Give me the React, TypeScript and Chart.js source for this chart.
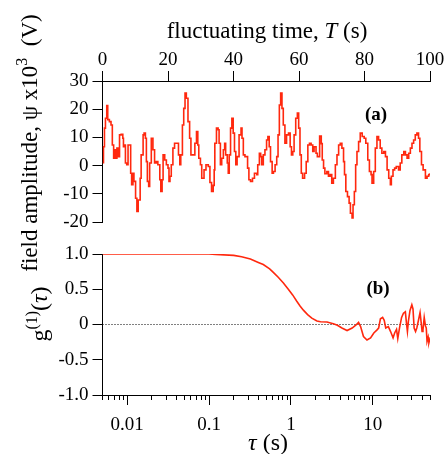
import React, { useEffect, useRef } from "react";
import { Chart, registerables } from "chart.js";
Chart.register(...registerables);

// ---------- data: panel (a) ----------
const timeSeconds = [
  0, 0.3, 0.6, 0.9, 1.3, 1.6, 2.1, 2.6, 3.0, 3.4, 3.7, 4.0, 4.4, 4.8, 5.2, 5.7, 6.2, 6.4, 6.7, 7.0,
  7.4, 7.8, 8.3, 8.6, 8.9, 9.3, 9.6, 10.1, 10.5, 10.9, 11.3, 11.5, 11.8, 12.4, 12.7, 13.1, 13.4, 13.7, 14.1, 14.4,
  14.9, 15.4, 15.9, 16.4, 16.9, 17.5, 17.8, 18.2, 18.5, 19.0, 19.5, 20.0, 20.3, 20.6, 21.0, 21.5, 22.0, 22.8, 23.2, 23.6,
  23.9, 24.4, 24.8, 25.2, 25.6, 26.1, 26.6, 27.0, 27.6, 28.2, 28.7, 29.1, 29.4, 29.9, 30.3, 31.0, 31.6, 32.3, 32.8, 33.3,
  33.8, 34.1, 34.3, 34.8, 35.3, 35.6, 36.0, 36.4, 36.9, 37.3, 37.6, 38.1, 38.4, 38.7, 39.1, 39.5, 39.9, 40.3, 40.7, 41.1,
  41.7, 42.3, 42.6, 43.0, 43.5, 44.0, 44.3, 44.7, 45.2, 45.8, 46.4, 47.1, 47.4, 47.9, 48.3, 48.6, 49.1, 49.6, 50.1, 50.5,
  50.9, 51.3, 51.8, 52.2, 52.7, 53.2, 53.6, 54.0, 54.4, 54.8, 55.2, 55.7, 56.2, 56.8, 57.3, 57.7, 58.1, 58.5, 59.0, 59.5,
  59.9, 60.3, 60.7, 61.1, 61.7, 62.2, 62.7, 63.2, 63.7, 64.2, 64.6, 65.2, 65.6, 66.3, 66.8, 67.1, 67.5, 67.9, 68.5, 69.0,
  69.5, 70.0, 70.5, 71.1, 71.6, 72.1, 72.6, 73.1, 73.6, 73.9, 74.3, 74.8, 75.3, 75.7, 76.2, 76.5, 76.9, 77.3, 77.7, 78.2,
  78.7, 79.3, 79.9, 80.4, 81.0, 81.5, 82.0, 82.3, 82.8, 83.3, 83.8, 84.3, 84.8, 85.3, 85.9, 86.4, 86.9, 87.4, 87.9, 88.2,
  88.7, 89.2, 89.7, 90.4, 90.9, 91.4, 92.0, 92.5, 93.0, 93.5, 94.0, 94.5, 95.0, 95.5, 96.0, 96.5, 96.9, 97.4, 97.9, 98.6,
  99.1, 99.6, 100,
];
const amplitude = [
  1.0, 6.7, 13.3, 16.8, 21.3, 16.3, 15.6, 14.4, 7.3, 2.6, 5.6, 2.6, 6.2, 3.2, 10.9, 11.1, 9.7, 6.7, 7.3, 0.9,
  0.3, 7.3, 7.3, -2.7, -6.8, -2.7, -5.6, -11.6, -16.3, -12.2, -12.2, -4.5, 3.8, 10.9, 11.5, 9.7, 1.4, -5.6, -7.4, 0.9,
  9.7, 5.6, 0.9, 1.4, 0.3, -5.0, -9.2, -5.0, 3.8, 2.0, 0.3, -0.9, -5.6, -3.8, 0.3, 6.2, 7.9, 7.9, 3.8, 0.3,
  3.8, 14.4, 20.3, 25.7, 23.9, 15.6, 9.7, 3.8, 3.8, 7.9, 12.1, 7.3, 2.6, 0.3, -4.5, -1.5, 0.3, -0.3, -6.0, -9.2,
  -7.0, -1.5, 7.9, 13.3, 12.7, 7.9, 0.3, 2.6, 5.6, 7.9, 3.8, 0.9, -2.7, 3.8, 13.3, 16.8, 11.5, 5.0, 0.3, 3.2,
  10.9, 13.3, 9.7, 3.8, 3.2, 3.2, -0.9, -5.0, -5.6, -4.5, -2.7, -3.2, 0.3, 4.4, 3.2, 0.3, 3.8, 5.6, 9.1, 10.3,
  6.7, 1.4, -2.7, -2.1, 0.3, 3.2, 10.9, 21.5, 25.7, 20.3, 14.4, 7.9, 10.9, 11.5, 6.7, 3.8, 5.0, 10.9, 16.8, 18.6,
  13.3, 3.8, -2.7, -4.5, -2.7, 1.4, 7.3, 7.9, 7.3, 5.0, 6.7, 4.4, 3.2, 10.5, 7.8, 2.0, -0.9, -2.9, -2.1, -3.8,
  -3.2, -6.2, -4.5, 0.3, 3.8, 7.3, 7.9, 6.2, 1.4, -3.2, -9.2, -11.0, -13.3, -16.9, -18.6, -13.9, -9.2, 0.3, 5.0, 8.5,
  11.5, 10.3, 9.7, 7.9, 2.0, -2.1, -3.2, -6.2, -2.1, 6.2, 10.3, 9.1, 6.2, 4.4, 5.0, 3.2, -1.5, -4.5, -6.8, -3.8,
  -1.5, -0.9, -0.3, -1.5, 0.9, 3.8, 5.0, 3.8, 2.6, 4.4, 6.2, 7.9, 9.1, 10.9, 11.5, 9.7, 5.0, 0.3, -1.5, -4.5,
  -3.8, -3.2, -2.7,
];
const timeTicks = [0, 20, 40, 60, 80, 100];
const amplitudeTicks = [-20, -10, 0, 10, 20, 30];

// ---------- data: panel (b) ----------
const lagSeconds = [
  0.005, 0.1, 0.12, 0.2, 0.25, 0.32, 0.4, 0.46, 0.55, 0.61, 0.7, 0.81, 0.93, 1.05, 1.18, 1.3, 1.43, 1.6, 1.8, 2.08,
  2.3, 2.76, 3.3, 3.7, 4.2, 4.85, 5.6, 6.2, 6.7, 7.1, 7.7, 8.5, 9.4, 10.3, 11.2, 11.8, 12.4, 13.2, 13.8, 14.4,
  15.5, 16.5, 17.7, 18.5, 19.5, 20.2, 21.2, 22.5, 23.7, 25, 25.8, 26.5, 27.2, 28.5, 30, 31, 32, 33.3, 34.5, 36,
  37.8, 39, 40, 41, 42.5, 44, 45, 46, 47.5, 48.5, 50,
];
const correlation = [
  1.0, 1.0, 0.995, 0.98, 0.96, 0.93, 0.88, 0.85, 0.79, 0.74, 0.67, 0.59, 0.5, 0.42, 0.33, 0.26, 0.2, 0.14, 0.09, 0.05,
  0.04, 0.035, 0.01, -0.01, -0.05, -0.085, -0.05, -0.01, 0.03, -0.03, -0.17, -0.22, -0.19, -0.12, -0.08, -0.05, 0.08, 0.1, 0.06, -0.05,
  -0.03, -0.1, -0.19, -0.12, -0.07, -0.2, -0.05, 0.1, 0.16, 0.18, 0.02, -0.1, 0.04, 0.2, 0.28, 0.22, -0.05, -0.1, -0.05, 0.05,
  0.17, 0.03, -0.1, -0.08, 0.1, -0.02, -0.05, -0.24, -0.18, -0.26, -0.2,
];
const correlationTicks = [-1, -0.5, 0, 0.5, 1];
const majorLagTicks = [0.01, 0.1, 1, 10];
const minorLagTicks = [
  0.005, 0.006, 0.007, 0.008, 0.009, 0.02, 0.03, 0.04, 0.05, 0.06, 0.07, 0.08, 0.09,
  0.2, 0.3, 0.4, 0.5, 0.6, 0.7, 0.8, 0.9, 2, 3, 4, 5, 6, 7, 8, 9, 20, 30, 40, 50,
];

const SERIF = '"Liberation Serif", "Times New Roman", serif';
const RED = "rgb(255,40,14)";
const W = 446;
const H = 454;

type Seg = { t: string; italic?: boolean; sup?: boolean; bold?: boolean };

function drawRich(ctx: CanvasRenderingContext2D, segs: Seg[], cx: number, cy: number, size: number, rotate: boolean) {
  ctx.save();
  ctx.translate(cx, cy);
  if (rotate) ctx.rotate(-Math.PI / 2);
  const fontFor = (s: Seg) =>
    `${s.italic ? "italic " : ""}${s.bold ? "bold " : ""}${s.sup ? Math.round(size * 0.68) : size}px ${SERIF}`;
  let total = 0;
  const widths = segs.map((s) => {
    ctx.font = fontFor(s);
    const w = ctx.measureText(s.t).width;
    total += w;
    return w;
  });
  let x = -total / 2;
  ctx.fillStyle = "#000";
  ctx.textBaseline = "alphabetic";
  ctx.textAlign = "left";
  segs.forEach((s, i) => {
    ctx.font = fontFor(s);
    ctx.fillText(s.t, x, s.sup ? size * 0.33 - size * 0.4 : size * 0.33);
    x += widths[i];
  });
  ctx.restore();
}

const tickFont = { family: SERIF, size: 19 };

export default function App() {
  const topRef = useRef<HTMLCanvasElement | null>(null);
  const botRef = useRef<HTMLCanvasElement | null>(null);

  useEffect(() => {
    Chart.defaults.font.family = SERIF;
    Chart.defaults.color = "#000";

    const topText = {
      id: "topText",
      afterDraw(chart: any) {
        const ctx = chart.ctx as CanvasRenderingContext2D;
        drawRich(ctx, [{ t: "fluctuating time, " }, { t: "T", italic: true }, { t: " (s)" }], 267, 30, 23, false);
        drawRich(
          ctx,
          [{ t: "field amplitude, ψ x10" }, { t: "3", sup: true }, { t: "  (V)" }],
          29,
          143,
          23,
          true
        );
        drawRich(ctx, [{ t: "(a)", bold: true }], 376, 114, 19, false);
      },
    };

    const botText = {
      id: "botText",
      afterDraw(chart: any) {
        const ctx = chart.ctx as CanvasRenderingContext2D;
        drawRich(ctx, [{ t: "τ", italic: true }, { t: " (s)" }], 268, 442, 24, false);
        drawRich(
          ctx,
          [{ t: "g" }, { t: "(1)", sup: true }, { t: "(" }, { t: "τ", italic: true }, { t: ")" }],
          39,
          314,
          24,
          true
        );
        drawRich(ctx, [{ t: "(b)", bold: true }], 378, 288, 19, false);
      },
    };

    const topChart = new Chart(topRef.current as HTMLCanvasElement, {
      type: "line",
      data: {
        datasets: [
          {
            data: timeSeconds.map((x, i) => ({ x, y: amplitude[i] })),
            borderColor: RED,
            borderWidth: 1.6,
            pointRadius: 0,
            stepped: true,
            fill: false,
          },
        ],
      },
      options: {
        animation: false,
        responsive: false,
        layout: { padding: { left: 0, top: 0, right: W - 430, bottom: H - 222 } },
        plugins: { legend: { display: false }, tooltip: { enabled: false } },
        scales: {
          x: {
            type: "linear",
            position: "top",
            min: 0,
            max: 100,
            afterBuildTicks: (s: any) => {
              s.ticks = timeTicks.map((v) => ({ value: v }));
            },
            afterFit: (s: any) => {
              s.height = 81;
            },
            ticks: { font: tickFont, color: "#000", padding: 0, maxRotation: 0, autoSkip: false },
            grid: { drawOnChartArea: false, drawTicks: true, tickLength: 10, color: "#000", lineWidth: 1 },
            border: { display: true, color: "#000", width: 1 },
          },
          y: {
            type: "linear",
            position: "left",
            min: -20,
            max: 30,
            afterBuildTicks: (s: any) => {
              s.ticks = amplitudeTicks.map((v) => ({ value: v }));
            },
            afterFit: (s: any) => {
              s.width = 102.5;
            },
            ticks: { font: tickFont, color: "#000", padding: 4, callback: (v: any) => String(v) },
            grid: { drawOnChartArea: false, drawTicks: true, tickLength: 10, color: "#000", lineWidth: 1 },
            border: { display: true, color: "#000", width: 1 },
          },
        },
      },
      plugins: [topText],
    } as any);

    const botChart = new Chart(botRef.current as HTMLCanvasElement, {
      type: "line",
      data: {
        datasets: [
          {
            data: lagSeconds.map((x, i) => ({ x, y: correlation[i] })),
            borderColor: RED,
            borderWidth: 1.6,
            pointRadius: 0,
            tension: 0,
            fill: false,
            xAxisID: "x",
          },
          {
            data: [
              { x: minorLagTicks[0], y: 0 },
              { x: minorLagTicks[minorLagTicks.length - 1], y: 0 },
            ],
            borderColor: "#000",
            borderWidth: 1,
            borderDash: [1, 2],
            pointRadius: 0,
            fill: false,
            xAxisID: "x",
          },
        ],
      },
      options: {
        animation: false,
        responsive: false,
        layout: { padding: { left: 0, top: 254, right: W - 430, bottom: 0 } },
        plugins: { legend: { display: false }, tooltip: { enabled: false } },
        scales: {
          xMinor: {
            type: "logarithmic",
            position: "bottom",
            weight: 0,
            min: 0.005,
            max: 50,
            afterBuildTicks: (s: any) => {
              s.ticks = minorLagTicks.map((v) => ({ value: v }));
            },
            afterFit: (s: any) => {
              s.height = 0;
            },
            ticks: { display: false },
            grid: { drawOnChartArea: false, drawTicks: true, tickLength: 5, color: "#000", lineWidth: 1 },
            border: { display: false },
          },
          x: {
            type: "logarithmic",
            position: "bottom",
            weight: 1,
            min: 0.005,
            max: 50,
            afterBuildTicks: (s: any) => {
              s.ticks = majorLagTicks.map((v) => ({ value: v }));
            },
            afterFit: (s: any) => {
              s.height = H - 395;
            },
            ticks: {
              font: tickFont,
              color: "#000",
              padding: 9,
              maxRotation: 0,
              autoSkip: false,
              callback: (v: any) => String(v),
            },
            grid: { drawOnChartArea: false, drawTicks: true, tickLength: 10, color: "#000", lineWidth: 1 },
            border: { display: true, color: "#000", width: 1 },
          },
          y: {
            type: "linear",
            position: "left",
            min: -1,
            max: 1,
            afterBuildTicks: (s: any) => {
              s.ticks = correlationTicks.map((v) => ({ value: v }));
            },
            afterFit: (s: any) => {
              s.width = 102.5;
            },
            ticks: {
              font: tickFont,
              color: "#000",
              padding: 4,
              callback: (v: any) => (Number(v) === 0 ? "0" : Number(v).toFixed(1)),
            },
            grid: { drawOnChartArea: false, drawTicks: true, tickLength: 10, color: "#000", lineWidth: 1 },
            border: { display: true, color: "#000", width: 1 },
          },
        },
      },
      plugins: [botText],
    } as any);

    return () => {
      topChart.destroy();
      botChart.destroy();
    };
  }, []);

  return (
    <div style={{ position: "absolute", left: 0, top: 0, width: W, height: H, background: "#fff" }}>
      <canvas ref={topRef} width={W} height={H} style={{ position: "absolute", left: 0, top: 0 }} />
      <canvas ref={botRef} width={W} height={H} style={{ position: "absolute", left: 0, top: 0 }} />
    </div>
  );
}
